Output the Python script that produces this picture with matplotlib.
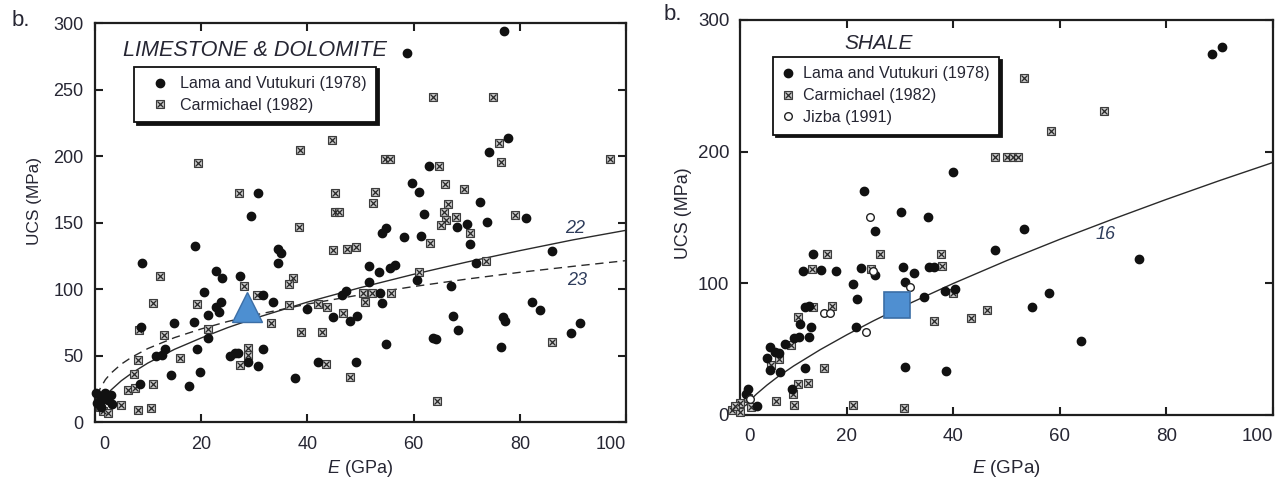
import numpy as np
import matplotlib.pyplot as plt
import matplotlib.transforms as mtransforms
from matplotlib.lines import Line2D

plt.rcParams['font.family'] = ['Liberation Sans', 'DejaVu Sans']
plt.rcParams['mathtext.fontset'] = 'custom'
plt.rcParams['mathtext.rm'] = 'Liberation Sans'
plt.rcParams['mathtext.it'] = 'Liberation Sans:italic'

TXT = '#262633'
LBL = '#2f3d5c'

# ---------------- limestone & dolomite (E GPa, UCS MPa) ----------------
lime_lama = [
    (77, 294), (58.8, 278), (77.8, 214), (74.2, 203), (63, 193), (59.8, 180),
    (61.1, 173), (72.5, 165.5), (62, 157), (70, 149), (73.8, 151), (81.2, 153.5),
    (68.1, 146.8), (54.8, 146), (54, 142.3), (58.2, 139.2), (61.4, 140.5),
    (70.7, 134), (86, 129), (51.7, 118), (53.5, 113.4), (55.6, 116), (56.5, 118.4),
    (60.6, 107), (71.7, 119.7), (51.6, 106), (67, 102.6), (53.7, 97.6), (54, 90),
    (82.2, 90.4), (83.8, 84.6), (49.4, 80), (67.4, 80), (76.8, 79.5), (77.2, 76.5),
    (68.3, 69.5), (63.7, 63.8), (64.3, 62.8), (91.4, 74.6), (89.7, 67.1),
    (54.8, 59), (76.4, 57), (49.2, 45.3),
    (30.7, 172.8), (29.4, 155.3), (18.9, 133), (34.4, 130.2), (35, 127.2),
    (34.4, 119.7), (8.8, 119.7), (22.8, 113.9), (24, 108.4), (27.3, 110.2),
    (20.6, 98.3), (31.7, 95.9), (33.5, 90.8), (23.7, 90.8), (22.8, 86.6),
    (23.3, 83.3), (21.4, 80.8), (39.9, 85.1), (44.8, 79.1), (48, 76.6),
    (46.5, 95.9), (47.3, 99.1), (15, 75), (18.6, 75.8), (8.7, 71.6), (21.3, 63.3),
    (13.2, 55), (11.5, 50), (12.6, 50.8), (19.2, 55), (25.5, 50), (26.4, 52),
    (27, 52.5), (28.9, 45.7), (30.7, 42.5), (31.6, 55.3), (42, 45.7), (37.7, 33.7),
    (14.4, 35.7), (19.8, 38.2), (17.7, 27.7), (8.5, 29),
    (0.5, 15), (1, 20), (1.5, 18), (2, 22), (2.5, 17), (3, 21), (1.2, 12),
    (3.3, 14), (0.3, 22),
]
lime_carm = [
    (19.5, 195), (27.1, 172.8), (38.6, 205), (44.6, 212.4), (45.2, 172.3),
    (45.2, 158.5), (46, 158.5), (38.5, 147),
    (63.7, 245), (75, 245), (76.1, 210.4), (76.4, 195.6), (96.9, 198), (54.6, 198),
    (55.6, 198), (64.8, 193), (66, 179.3), (69.5, 175.3), (52.7, 173), (52.4, 165.3),
    (66.5, 164), (65.7, 158.5), (66.2, 152.3), (68, 154.3), (79.1, 156), (65.1, 148.5),
    (70.6, 142.7), (63.1, 134.7), (61.1, 113), (73.6, 121.7), (50.5, 97), (52.1, 97),
    (55.7, 97.6), (50.9, 90.8), (86, 60.8), (48, 34.4), (64.5, 16.2),
    (44.8, 130), (47.4, 130.4), (49.2, 131.7), (12.3, 110.2), (37.4, 108.4),
    (36.6, 104), (28.1, 102.6), (30.5, 96), (11, 89.6), (19.2, 89.1), (36.6, 88.3),
    (42.1, 88.9), (43.8, 86.6), (46.8, 82.1), (8.4, 69.5), (21.3, 70.1), (13, 65.8),
    (33.2, 74.6), (38.9, 67.8), (42.8, 67.8), (16, 48.7), (28.8, 55.8), (28.8, 50.8),
    (27.3, 43.2), (43.6, 44), (8.2, 47), (7.3, 36.5), (11, 28.7), (6.3, 24.4),
    (7.5, 25.7), (8.2, 9.4), (10.6, 11.1), (5, 13.2), (1.5, 9), (2.5, 7), (1, 12),
]
lime_marker = (28.7, 87)

curve_e = [0.5, 1, 2, 3, 5, 7, 10, 15, 20, 25, 30, 40, 50, 60, 70, 80, 90, 100]
eq22_ucs = [9.7, 13.8, 19.7, 24.2, 31.4, 37.2, 44.7, 55.0, 63.5, 71.3, 78.2,
            90.5, 101.4, 111.4, 120.6, 129.2, 137.3, 144.5]
eq23_ucs = [20.1, 25.4, 32.2, 36.9, 43.9, 49.2, 55.6, 63.8, 70.3, 75.9, 80.7,
            89.0, 96.0, 102.2, 107.8, 112.9, 117.4, 121.7]

# ---------------- shale ----------------
shale_lama = [
    (88.6, 274), (90.4, 279.7), (40, 184.8), (23.3, 170), (30.2, 154.4), (35.2, 150),
    (25.3, 140), (13.7, 122), (47.8, 125.3), (11.8, 109.6), (15.2, 110), (17.9, 109.6),
    (22.6, 111.4), (25.3, 106.3), (30.5, 112.6), (32.6, 107.6), (35.5, 112.1),
    (36.4, 112.1), (21.2, 99.5), (30.9, 100.7), (22, 88.1), (34.5, 89.4),
    (38.4, 94.2), (40.4, 95.4), (12.2, 81.8), (12.9, 82.8), (11.2, 68.9),
    (13.3, 66.6), (21.7, 66.6), (10, 58.7), (11, 59.5), (12.9, 59.5), (8.4, 53.9),
    (5.6, 51.9), (5, 43), (6.6, 48.1), (7.2, 46.8), (5.6, 34.2), (7.5, 32.9),
    (12.2, 35.5), (30.9, 36.7), (38.7, 33.7), (9.7, 19.5), (53.2, 141.2),
    (74.9, 118.2), (58, 92.9), (54.8, 81.8), (63.9, 56.2), (1.5, 20), (3.1, 6.8),
    (1, 16),
]
shale_carm = [
    (47.8, 196), (50, 196), (51.3, 196), (52.2, 196), (53.3, 255.6), (68.3, 230.8),
    (58.4, 215.9), (16.3, 122), (26.2, 122), (37.7, 122), (13.5, 110.6),
    (24.6, 110.6), (37.9, 113), (40, 92.4), (46.4, 79.7), (43.3, 73.4), (36.4, 71.4),
    (13.7, 81.8), (17.3, 82.8), (10.8, 74.2), (9.5, 53.1), (5.7, 38), (7.2, 42.3),
    (15.8, 35.5), (10.8, 23.3), (12.7, 24), (9.8, 15.9), (6.7, 10.6), (10, 7.6),
    (21.2, 7.6), (30.8, 5.1), (-1.5, 4), (0, 9), (1.5, 13), (0, 2), (-1, 7), (2, 6),
]
shale_jizba = [(24.4, 150), (25, 109.6), (31.9, 97.4), (15.7, 77.2), (16.8, 77.7),
               (23.6, 63.3), (1.8, 12)]
shale_marker = (29.5, 83.3)

shale_curve_e = [1, 2, 3, 5, 7, 10, 15, 20, 25, 30, 40, 50, 60, 70, 80, 90, 100]
eq16_ucs = [7.2, 11.8, 15.8, 22.7, 28.9, 37.2, 49.6, 60.9, 71.5, 81.4, 99.9,
            117.2, 133.4, 148.8, 163.7, 178.0, 191.7]


def lama(ax, pts):
    p = np.array(pts)
    ax.plot(p[:, 0], p[:, 1], ls='none', marker='o', ms=6, mfc='#111', mec='#111',
            clip_on=False, zorder=3)


def carm(ax, pts):
    p = np.array(pts)
    ax.plot(p[:, 0], p[:, 1], ls='none', marker='s', ms=6, mfc='#c6c6c6',
            mec='#3c3c3c', mew=0.8, clip_on=False, zorder=3)
    ax.plot(p[:, 0], p[:, 1], ls='none', marker='x', ms=4.2, mec='#2a2a2a',
            mew=0.9, clip_on=False, zorder=3)


def jizba(ax, pts):
    p = np.array(pts)
    ax.plot(p[:, 0], p[:, 1], ls='none', marker='o', ms=5.5, mfc='white',
            mec='#222', mew=1.0, clip_on=False, zorder=3)


def style(ax, yticks, fs, xpad):
    ax.set_xlim(0, 100)
    ax.set_ylim(0, 300)
    for s in ax.spines.values():
        s.set_linewidth(1.6)
        s.set_color('#1e1e1e')
    ax.tick_params(direction='in', top=True, right=True, length=6, width=1.5,
                   color='#1e1e1e', labelsize=fs, labelcolor=TXT)
    ax.tick_params(axis='x', pad=9.5)
    ax.tick_params(axis='y', pad=8)
    ax.set_xticks([0, 20, 40, 60, 80, 100])
    ax.set_yticks(yticks)
    xl = ax.get_xticklabels()
    xl[0].set_ha('left')
    xl[0].set_transform(xl[0].get_transform() +
                        mtransforms.ScaledTranslation(4 / 100, 0, fig.dpi_scale_trans))
    xl[-1].set_ha('right')
    ax.set_xlabel('$\\it{E}$ (GPa)', fontsize=fs, color=TXT, labelpad=xpad)
    ax.set_ylabel('UCS (MPa)', fontsize=fs - 0.6, color=TXT)


def legend(ax, handles, labels, anchor, hlen, htp, lsp):
    leg = ax.legend(handles, labels, loc='upper left', bbox_to_anchor=anchor,
                    borderaxespad=0, fancybox=False, framealpha=1,
                    edgecolor='#111', shadow={'color': '#111', 'alpha': 1},
                    handlelength=hlen, handletextpad=htp, borderpad=0.6,
                    labelspacing=lsp, fontsize=11.6, labelcolor=TXT)
    leg.get_frame().set_linewidth(1.3)
    leg.set_zorder(5)


h_lama = Line2D([], [], ls='none', marker='o', ms=6, mfc='#111', mec='#111')
h_carm_s = Line2D([], [], ls='none', marker='s', ms=6, mfc='#c6c6c6', mec='#3c3c3c', mew=0.8)
h_carm_x = Line2D([], [], ls='none', marker='x', ms=4.2, mec='#2a2a2a', mew=0.9)
h_jiz = Line2D([], [], ls='none', marker='o', ms=5.5, mfc='white', mec='#222', mew=1.0)

fig = plt.figure(figsize=(12.84, 4.84), dpi=100)
ax1 = fig.add_axes([0.0738, 0.1271, 0.4138, 0.8244])
ax2 = fig.add_axes([0.5766, 0.1426, 0.4146, 0.8161])

# left panel
ax1.plot(curve_e, eq22_ucs, color='#2a2a2a', lw=1.0, zorder=2)
ax1.plot(curve_e, eq23_ucs, color='#2a2a2a', lw=1.0, ls=(0, (6, 4)), zorder=2)
carm(ax1, lime_carm)
lama(ax1, lime_lama)
ax1.plot(*lime_marker, ls='none', marker='^', ms=21, mfc='#4d8fd1', mec='#3b6ea6',
         mew=1.0, zorder=4)
ax1.text(90.4, 146, '22', style='italic', fontsize=13, color=LBL, ha='center', va='center')
ax1.text(90.7, 107, '23', style='italic', fontsize=13, color=LBL, ha='center', va='center')
ax1.text(5.4, 280, 'LIMESTONE & DOLOMITE', style='italic', fontsize=15.6,
         color=TXT, ha='left', va='center')
style(ax1, [0, 50, 100, 150, 200, 250, 300], 13, 4)
ax1.yaxis.set_label_coords(-0.099, 0.554)
legend(ax1, [h_lama, (h_carm_s, h_carm_x)],
       ['Lama and Vutukuri (1978)', 'Carmichael (1982)'], (0.074, 0.892),
       2.0, 0.25, 0.4)

# right panel
ax2.plot(shale_curve_e, eq16_ucs, color='#2a2a2a', lw=1.0, zorder=2)
carm(ax2, shale_carm)
lama(ax2, shale_lama)
jizba(ax2, shale_jizba)
ax2.plot(*shale_marker, ls='none', marker='s', ms=18.5, mfc='#4f8fd1', mec='#3b6ea6',
         mew=1.2, zorder=4)
ax2.text(68.6, 137.4, '16', style='italic', fontsize=13, color=LBL, ha='center', va='center')
ax2.text(26, 282, 'SHALE', style='italic', fontsize=15, color=TXT,
         ha='center', va='center')
style(ax2, [0, 100, 200, 300], 13.5, 9.5)
ax2.yaxis.set_label_coords(-0.091, 0.511)
legend(ax2, [h_lama, (h_carm_s, h_carm_x), h_jiz],
       ['Lama and Vutukuri (1978)', 'Carmichael (1982)', 'Jizba (1991)'],
       (0.061, 0.907), 0.7, 0.55, 0.42)

fig.text(12 / 1284, 1 - 20 / 484, 'b.', fontsize=16, color=TXT, ha='left', va='center')
fig.text(664 / 1284, 1 - 15 / 484, 'b.', fontsize=16, color=TXT, ha='left', va='center')

fig.savefig('out.png', dpi=100)
